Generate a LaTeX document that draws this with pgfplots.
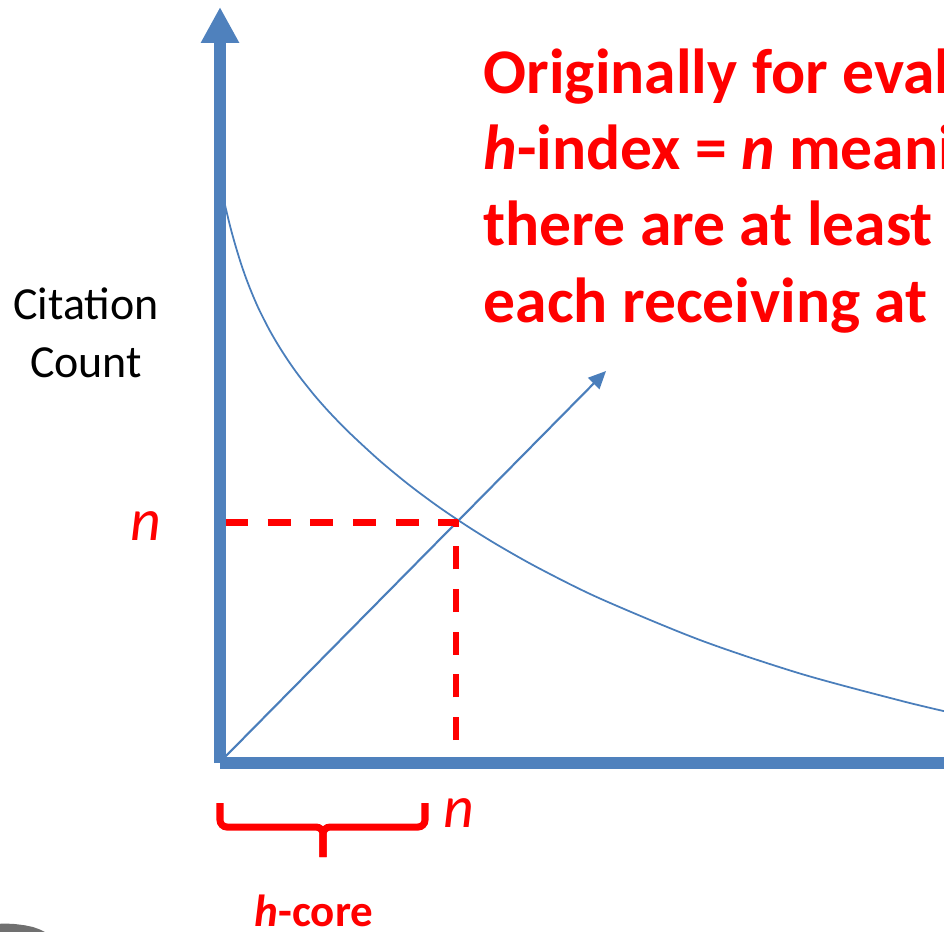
\documentclass[border=0pt]{standalone}
\usepackage{pgfplots}
\pgfplotsset{compat=1.18}
\usepackage{fontspec}
\setmainfont{Carlito}
\usetikzlibrary{arrows.meta}
\definecolor{axblue}{HTML}{4F81BD}
\definecolor{curveblue}{HTML}{4A7EBB}
\definecolor{slidered}{HTML}{FF0000}
\definecolor{shapegray}{HTML}{707070}
\begin{document}
\begin{tikzpicture}
\useasboundingbox (0,0) rectangle (9.44cm,9.31cm);
\clip (0,0) rectangle (9.44cm,9.31cm);
\begin{axis}[
  at={(0,0)}, anchor=south west,
  scale only axis, width=9.44cm, height=9.31cm,
  xmin=0, xmax=944, ymin=0, ymax=931, y dir=reverse,
  axis lines=none, clip=false]
% decorative gray shape bottom-left
\addplot[draw=none, fill=shapegray] coordinates {(-5,924) (5,923.5) (15,924) (25,925.3) (33,927) (40,929.5) (45,932) (45,940) (-5,940)} -- cycle;
% decreasing citation curve
\addplot[curveblue, line width=0.5pt, smooth, tension=0.5] coordinates {
(225,205) (230,225.8) (235,244) (240,260.5) (245,275.3) (250,288.5) (255,300.5)
(260,311.5) (270,331) (280,348) (290,363.3) (300,377.2) (315,396) (330,412.9)
(350,433.3) (380,460.9) (410,485.6) (440,507.8) (470,527.9) (500,546.4)
(540,568.8) (600,598.5) (700,640) (800,673.5) (900,700.5) (950,712.5)};
% diagonal y = x arrow
\addplot[curveblue, line width=0.6pt, -{Triangle[length=5pt,width=4.5pt]}] coordinates {(222,760) (606,371)};
% red dashed guides
\addplot[slidered, line width=2pt, dash pattern=on 6.54pt off 5.6pt] coordinates {(225,522) (458,522)};
\addplot[slidered, line width=1.8pt, dash pattern=on 6.54pt off 5.6pt] coordinates {(456,740) (456,520)};
% axes
\addplot[axblue, line width=3.4pt, -{Triangle[length=10.2pt,width=10.2pt]}] coordinates {(220,763) (220,7)};
\addplot[axblue, line width=3.4pt] coordinates {(220,763) (960,763)};
% brace
\addplot[slidered, line width=2pt, rounded corners=2pt] coordinates {(220,803) (220,827) (323,827) (323,857)};
\addplot[slidered, line width=2pt, rounded corners=2pt] coordinates {(425,803) (425,827) (323,827) (323,857)};
% labels
\node[anchor=base, inner sep=0, font=\fontsize{13.07pt}{15pt}\selectfont] at (axis cs:86,319) {Citation};
\node[anchor=base, inner sep=0, font=\fontsize{13.07pt}{15pt}\selectfont] at (axis cs:86,377) {Count};
\node[anchor=base, inner sep=0, text=slidered, font=\fontsize{17pt}{20pt}\selectfont\itshape] at (axis cs:146,540) {n};
\node[anchor=base, inner sep=0, text=slidered, font=\fontsize{17pt}{20pt}\selectfont\itshape] at (axis cs:459,827) {n};
\node[anchor=base, inner sep=0, text=slidered, font=\fontsize{12.8pt}{15pt}\selectfont\bfseries] at (axis cs:314,926) {\textit{h}-core};
\begin{scope}[every node/.style={anchor=base west, inner sep=0, text=slidered, font=\fontsize{18.1pt}{21pt}\selectfont\bfseries}]
\node at (axis cs:483,93) {Originally for evaluating a researcher:};
\node at (axis cs:483,169) {\textit{h}-index = \textit{n} meaning};
\node at (axis cs:483,245) {there are at least};
\node at (axis cs:483,322) {each receiving at};
\end{scope}
\end{axis}
\end{tikzpicture}
\end{document}
